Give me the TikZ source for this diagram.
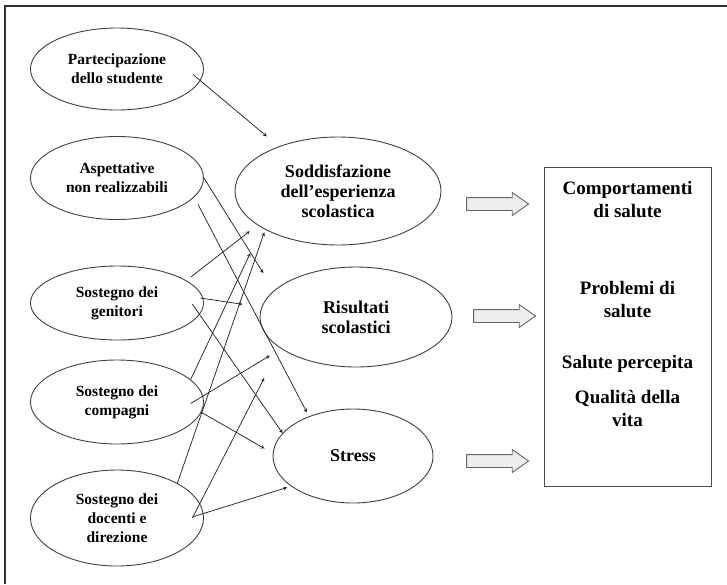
\documentclass[tikz,border=0pt]{standalone}
\usepackage{fontspec}
\setmainfont{Liberation Serif}
\usetikzlibrary{arrows,shapes,calc,positioning}

\begin{document}
\begin{tikzpicture}
    [x=1pt, y=-1pt, >=stealth,
    factor/.style={ellipse, draw=black!75, line width=0.9pt, inner sep=0pt,
      minimum width=173pt, align=center,
      font=\bfseries\fontsize{15.5}{19}\selectfont},
    outcome/.style={ellipse, draw=black!75, line width=0.9pt, inner sep=0pt,
      align=center, font=\bfseries\fontsize{18}{20}\selectfont},
    link/.style={->, line width=0.75pt, black!85},
    fat/.style={single arrow, draw=black!60, fill=black!7, line width=0.9pt,
      inner xsep=0pt, inner ysep=6pt, single arrow head extend=5pt,
      single arrow tip angle=70, minimum height=62pt},
    health/.style={align=center, inner sep=0pt,
      font=\bfseries\fontsize{19}{23}\selectfont}]

  \useasboundingbox (0,0) rectangle (727,584);
  % frame (only left and top edge show)
  \draw[line width=2.5pt, black!80] (5,584) -- (5,6) -- (727,6);

  % left column
  \node[factor, minimum height=82pt] (part) at (117,69) {Partecipazione\\dello studente};
  \node[factor, minimum height=83pt] (asp) at (117,178) {Aspettative\\non realizzabili};
  \node[factor, minimum height=74pt] (gen) at (117,303) {Sostegno dei\\genitori};
  \node[factor, minimum height=84pt] (comp) at (117,402) {Sostegno dei\\compagni};
  \node[factor, minimum height=96pt] (doc) at (117,518) {Sostegno dei\\docenti e\\direzione};

  % middle column
  \node[outcome, minimum width=206pt, minimum height=108pt] (sodd) at (338,191)
    {Soddisfazione\\dell'esperienza\\scolastica};
  \node[outcome, minimum width=192pt, minimum height=100pt] (ris) at (356,317)
    {Risultati\\scolastici};
  \node[outcome, minimum width=160pt, minimum height=94pt] (stress) at (353,456) {Stress};

  % right column
  \node[fat] (arr1) at (493,204) {};
  \node[fat] (arr2) at (500,316) {};
  \node[fat] (arr3) at (493,461) {};
  \node[draw=black!70, line width=1pt, minimum width=167pt, minimum height=319pt,
    inner sep=0pt] (box) at (627.5,326.5) {};
  \node[health, below=15pt of box.north] (behav) {Comportamenti\\di salute};
  \node[health, below=63pt of behav] (probl) {Problemi di\\salute};
  \node[health, below=37pt of probl] (perc) {Salute percepita};
  \node[health, below=17pt of perc] (qual) {Qualità della\\vita};

  % paths
  \draw[link, shorten <=-9.7pt, shorten >=15.6pt] (part.-8) -- (sodd.143);
  \draw[link, shorten >=20.3pt] (asp.0) -- (ris.162);
  \draw[link, shorten <=8pt, shorten >=4.2pt] (asp.-14) -- (stress.138);
  \draw[link, shorten <=5.7pt, shorten >=9.8pt] (gen.18) -- (sodd.203);
  \draw[link, shorten <=-2.8pt, shorten >=19.1pt] (gen.3) -- (ris.174);
  \draw[link, shorten <=-12.8pt] (gen.-8) -- (stress.162);
  \draw[link, shorten >=27.8pt] (comp.17) -- (sodd.206);
  \draw[link, shorten <=-14.5pt, shorten >=13.1pt] (comp.4) -- (ris.203);
  \draw[link, shorten >=9.4pt] (comp.-7) -- (stress.178);
  \draw[link, shorten >=2.7pt] (doc.30) -- (sodd.208);
  \draw[link, shorten <=-16.1pt, shorten >=33.8pt] (doc.10) -- (ris.202);
  \draw[link, shorten <=-12pt, shorten >=4pt] (doc.3) -- (stress.206);

\end{tikzpicture}
\end{document}
